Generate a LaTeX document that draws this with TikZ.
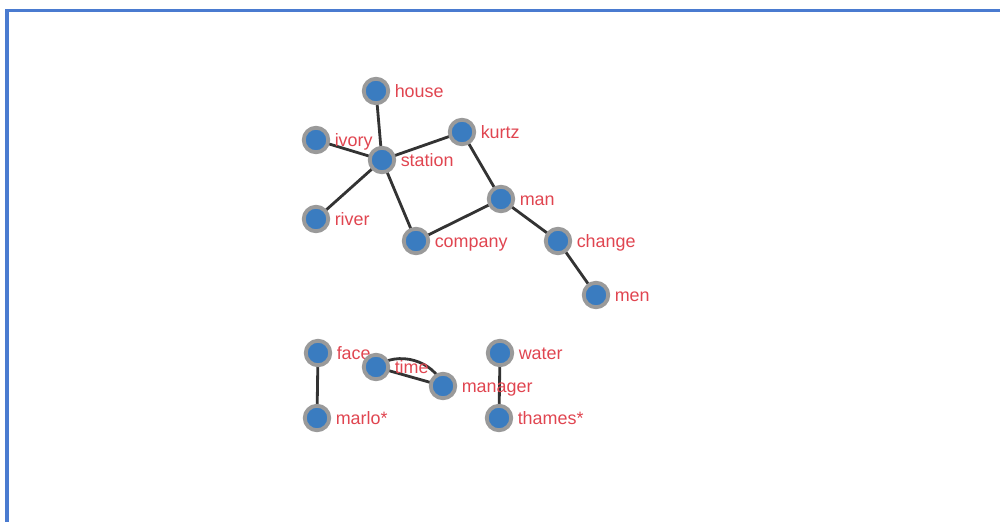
\documentclass[tikz,border=0pt]{standalone}
\usepackage{fontspec}
\setmainfont{Liberation Sans}
\usetikzlibrary{backgrounds}
\definecolor{nodeblue}{HTML}{3A7CC0}
\definecolor{ringgray}{HTML}{9A9A9A}
\definecolor{lblred}{HTML}{E04550}
\definecolor{edgegray}{HTML}{333333}
\definecolor{frameblue}{HTML}{4A7BD0}
\begin{document}
\begin{tikzpicture}[x=0.02cm, y=-0.02cm,
		wd/.style={circle, fill=nodeblue, draw=ringgray, line width=2.2pt,
			minimum size=0.49cm, inner sep=0pt},
		lbl/.style={text=lblred, font=\fontsize{10.2}{12}\selectfont, inner sep=2.4pt,
			text height=8.5pt, text depth=0.8pt},
		e/.style={draw=edgegray, line width=1.6pt}]
	\useasboundingbox (0,0) rectangle (1000,522);
	\draw[frameblue, line width=1.8pt] (1000,10.5) -- (7,10.5) -- (7,522);
			
	% upper cluster
	\node[wd, label={[lbl]east:house}] (house) at (376,91) {};
	\node[wd, label={[lbl]east:ivory}] (ivory) at (316,140) {};
	\node[wd, label={[lbl]east:station}] (station) at (382,160) {};
	\node[wd, label={[lbl]east:kurtz}] (kurtz) at (462,132) {};
	\node[wd, label={[lbl]east:man}] (man) at (501,199) {};
	\node[wd, label={[lbl]east:river}] (river) at (316,219) {};
	\node[wd, label={[lbl]east:company}] (company) at (416,241) {};
	\node[wd, label={[lbl]east:change}] (change) at (558,241) {};
	\node[wd, label={[lbl]east:men}] (men) at (596,295) {};
	
	% lower cluster
	\node[wd, label={[lbl]east:face}] (face) at (318,353) {};
	\node[wd, label={[lbl]east:time}] (time) at (376,367) {};
	\node[wd, label={[lbl]east:manager}] (manager) at (443,386) {};
	\node[wd, label={[lbl]east:water}] (water) at (500,353) {};
	\node[wd, label={[lbl]east:marlo*}] (marlo) at (317,418) {};
	\node[wd, label={[lbl]east:thames*}] (thames) at (499,418) {};
	
	\begin{pgfonlayer}{background}
		\draw[e] (house.center) -- (station.center);
		\draw[e] (ivory.center) -- (station.center);
		\draw[e] (station.center) -- (kurtz.center);
		\draw[e] (station.center) -- (river.center);
		\draw[e] (station.center) -- (company.center);
		\draw[e] (kurtz.center) -- (man.center);
		\draw[e] (man.center) -- (company.center);
		\draw[e] (man.center) -- (change.center);
		\draw[e] (change.center) -- (men.center);
		\draw[e] (face.center) -- (marlo.center);
		\draw[e] (time.center) -- (manager.center);
		\draw[e] (time.center) to[bend left=55] (manager.center);
		\draw[e] (water.center) -- (thames.center);
	\end{pgfonlayer}
\end{tikzpicture}
\end{document}
